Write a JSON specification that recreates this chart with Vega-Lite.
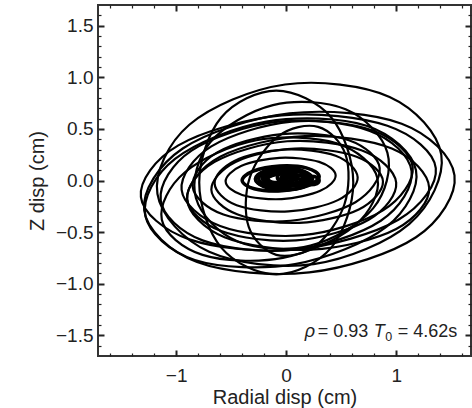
{
  "$schema": "https://vega.github.io/schema/vega-lite/v6.json",
  "width": 373,
  "height": 351,
  "autosize": {"type": "none"},
  "padding": {"left": 98, "top": 5, "right": 1, "bottom": 52},
  "config": {
    "view": {"stroke": "#333", "strokeWidth": 2},
    "axis": {"grid": false, "domain": false, "labelFont": "Liberation Sans", "titleFont": "Liberation Sans", "labelFontSize": 19, "titleFontSize": 20, "titleFontWeight": "normal", "labelColor": "#222", "titleColor": "#222"}
  },
  "data": {"values": [
    {"loop":1,"i":0,"x":1.53,"y":0.05},{"loop":1,"i":1,"x":1.05,"y":0.55},{"loop":1,"i":2,"x":0.03,"y":0.65},{"loop":1,"i":3,"x":-0.94,"y":0.31},{"loop":1,"i":4,"x":-1.29,"y":-0.29},{"loop":1,"i":5,"x":-0.81,"y":-0.79},{"loop":1,"i":6,"x":0.21,"y":-0.89},{"loop":1,"i":7,"x":1.18,"y":-0.55},
    {"loop":2,"i":0,"x":1.41,"y":0.25},{"loop":2,"i":1,"x":0.94,"y":0.81},{"loop":2,"i":2,"x":-0.01,"y":0.93},{"loop":2,"i":3,"x":-0.88,"y":0.54},{"loop":2,"i":4,"x":-1.17,"y":-0.13},{"loop":2,"i":5,"x":-0.70,"y":-0.69},{"loop":2,"i":6,"x":0.25,"y":-0.81},{"loop":2,"i":7,"x":1.12,"y":-0.42},
    {"loop":3,"i":0,"x":1.18,"y":0.10},{"loop":3,"i":1,"x":0.73,"y":0.53},{"loop":3,"i":2,"x":-0.18,"y":0.57},{"loop":3,"i":3,"x":-1.01,"y":0.21},{"loop":3,"i":4,"x":-1.28,"y":-0.34},{"loop":3,"i":5,"x":-0.83,"y":-0.77},{"loop":3,"i":6,"x":0.08,"y":-0.81},{"loop":3,"i":7,"x":0.91,"y":-0.45},
    {"loop":4,"i":0,"x":1.14,"y":0.09},{"loop":4,"i":1,"x":0.76,"y":0.48},{"loop":4,"i":2,"x":-0.07,"y":0.57},{"loop":4,"i":3,"x":-0.86,"y":0.29},{"loop":4,"i":4,"x":-1.14,"y":-0.19},{"loop":4,"i":5,"x":-0.76,"y":-0.58},{"loop":4,"i":6,"x":0.07,"y":-0.67},{"loop":4,"i":7,"x":0.86,"y":-0.39},
    {"loop":5,"i":0,"x":1.15,"y":0.13},{"loop":5,"i":1,"x":0.80,"y":0.48},{"loop":5,"i":2,"x":0.05,"y":0.57},{"loop":5,"i":3,"x":-0.68,"y":0.33},{"loop":5,"i":4,"x":-0.95,"y":-0.09},{"loop":5,"i":5,"x":-0.60,"y":-0.44},{"loop":5,"i":6,"x":0.15,"y":-0.53},{"loop":5,"i":7,"x":0.88,"y":-0.29},
    {"loop":6,"i":0,"x":1.00,"y":-0.02},{"loop":6,"i":1,"x":0.69,"y":0.29},{"loop":6,"i":2,"x":0.01,"y":0.38},{"loop":6,"i":3,"x":-0.65,"y":0.18},{"loop":6,"i":4,"x":-0.90,"y":-0.18},{"loop":6,"i":5,"x":-0.59,"y":-0.49},{"loop":6,"i":6,"x":0.09,"y":-0.58},{"loop":6,"i":7,"x":0.75,"y":-0.38},
    {"loop":7,"i":0,"x":0.85,"y":0.12},{"loop":7,"i":1,"x":0.57,"y":0.39},{"loop":7,"i":2,"x":-0.04,"y":0.45},{"loop":7,"i":3,"x":-0.63,"y":0.27},{"loop":7,"i":4,"x":-0.85,"y":-0.06},{"loop":7,"i":5,"x":-0.57,"y":-0.33},{"loop":7,"i":6,"x":0.04,"y":-0.39},{"loop":7,"i":7,"x":0.63,"y":-0.21},
    {"loop":8,"i":0,"x":0.88,"y":-0.01},{"loop":8,"i":1,"x":0.64,"y":0.23},{"loop":8,"i":2,"x":0.08,"y":0.31},{"loop":8,"i":3,"x":-0.46,"y":0.18},{"loop":8,"i":4,"x":-0.68,"y":-0.09},{"loop":8,"i":5,"x":-0.44,"y":-0.33},{"loop":8,"i":6,"x":0.12,"y":-0.41},{"loop":8,"i":7,"x":0.66,"y":-0.28},
    {"loop":9,"i":0,"x":0.61,"y":-0.02},{"loop":9,"i":1,"x":0.41,"y":0.61},{"loop":9,"i":2,"x":-0.09,"y":0.87},{"loop":9,"i":3,"x":-0.59,"y":0.61},{"loop":9,"i":4,"x":-0.79,"y":-0.02},{"loop":9,"i":5,"x":-0.59,"y":-0.65},{"loop":9,"i":6,"x":-0.09,"y":-0.91},{"loop":9,"i":7,"x":0.41,"y":-0.65},
    {"loop":10,"i":0,"x":0.53,"y":-0.23},{"loop":10,"i":1,"x":0.54,"y":0.25},{"loop":10,"i":2,"x":0.29,"y":0.52},{"loop":10,"i":3,"x":-0.07,"y":0.43},{"loop":10,"i":4,"x":-0.33,"y":0.03},{"loop":10,"i":5,"x":-0.34,"y":-0.45},{"loop":10,"i":6,"x":-0.09,"y":-0.72},{"loop":10,"i":7,"x":0.27,"y":-0.63},
    {"loop":11,"i":0,"x":0.83,"y":0.02},{"loop":11,"i":1,"x":0.46,"y":0.36},{"loop":11,"i":2,"x":-0.27,"y":0.39},{"loop":11,"i":3,"x":-0.92,"y":0.08},{"loop":11,"i":4,"x":-1.13,"y":-0.38},{"loop":11,"i":5,"x":-0.76,"y":-0.72},{"loop":11,"i":6,"x":-0.03,"y":-0.75},{"loop":11,"i":7,"x":0.62,"y":-0.44},
    {"loop":12,"i":0,"x":1.30,"y":-0.07},{"loop":12,"i":1,"x":0.96,"y":0.31},{"loop":12,"i":2,"x":0.17,"y":0.43},{"loop":12,"i":3,"x":-0.60,"y":0.23},{"loop":12,"i":4,"x":-0.90,"y":-0.18},{"loop":12,"i":5,"x":-0.56,"y":-0.55},{"loop":12,"i":6,"x":0.23,"y":-0.67},{"loop":12,"i":7,"x":1.00,"y":-0.47},
    {"loop":13,"i":0,"x":0.65,"y":0.03},{"loop":13,"i":1,"x":0.45,"y":0.24},{"loop":13,"i":2,"x":-0.02,"y":0.30},{"loop":13,"i":3,"x":-0.47,"y":0.19},{"loop":13,"i":4,"x":-0.65,"y":-0.03},{"loop":13,"i":5,"x":-0.45,"y":-0.24},{"loop":13,"i":6,"x":0.02,"y":-0.30},{"loop":13,"i":7,"x":0.47,"y":-0.19},
    {"loop":14,"i":0,"x":0.45,"y":0.05},{"loop":14,"i":1,"x":0.30,"y":0.18},{"loop":14,"i":2,"x":-0.06,"y":0.22},{"loop":14,"i":3,"x":-0.41,"y":0.14},{"loop":14,"i":4,"x":-0.55,"y":-0.01},{"loop":14,"i":5,"x":-0.40,"y":-0.14},{"loop":14,"i":6,"x":-0.04,"y":-0.18},{"loop":14,"i":7,"x":0.31,"y":-0.10},
    {"loop":15,"i":0,"x":1.36,"y":0.12},{"loop":15,"i":1,"x":0.92,"y":0.53},{"loop":15,"i":2,"x":-0.04,"y":0.63},{"loop":15,"i":3,"x":-0.98,"y":0.34},{"loop":15,"i":4,"x":-1.32,"y":-0.16},{"loop":15,"i":5,"x":-0.88,"y":-0.57},{"loop":15,"i":6,"x":0.08,"y":-0.67},{"loop":15,"i":7,"x":1.02,"y":-0.38},
    {"loop":16,"i":0,"x":0.92,"y":0.27},{"loop":16,"i":1,"x":0.54,"y":0.69},{"loop":16,"i":2,"x":-0.12,"y":0.73},{"loop":16,"i":3,"x":-0.69,"y":0.37},{"loop":16,"i":4,"x":-0.82,"y":-0.17},{"loop":16,"i":5,"x":-0.44,"y":-0.59},{"loop":16,"i":6,"x":0.22,"y":-0.63},{"loop":16,"i":7,"x":0.79,"y":-0.27},
    {"loop":17,"i":0,"x":0.19,"y":0.02},{"loop":17,"i":1,"x":0.13,"y":0.08},{"loop":17,"i":2,"x":-0.03,"y":0.10},{"loop":17,"i":3,"x":-0.19,"y":0.08},{"loop":17,"i":4,"x":-0.25,"y":0.02},{"loop":17,"i":5,"x":-0.19,"y":-0.04},{"loop":17,"i":6,"x":-0.03,"y":-0.06},{"loop":17,"i":7,"x":0.13,"y":-0.04},
    {"loop":18,"i":0,"x":0.17,"y":0.01},{"loop":18,"i":1,"x":0.12,"y":0.05},{"loop":18,"i":2,"x":0.0,"y":0.07},{"loop":18,"i":3,"x":-0.12,"y":0.05},{"loop":18,"i":4,"x":-0.17,"y":0.01},{"loop":18,"i":5,"x":-0.12,"y":-0.03},{"loop":18,"i":6,"x":0.0,"y":-0.05},{"loop":18,"i":7,"x":0.12,"y":-0.03},
    {"loop":19,"i":0,"x":0.07,"y":0.03},{"loop":19,"i":1,"x":0.04,"y":0.07},{"loop":19,"i":2,"x":-0.05,"y":0.08},{"loop":19,"i":3,"x":-0.14,"y":0.07},{"loop":19,"i":4,"x":-0.17,"y":0.03},{"loop":19,"i":5,"x":-0.14,"y":-0.01},{"loop":19,"i":6,"x":-0.05,"y":-0.02},{"loop":19,"i":7,"x":0.04,"y":-0.01},
    {"loop":20,"i":0,"x":0.13,"y":0.0},{"loop":20,"i":1,"x":0.11,"y":0.02},{"loop":20,"i":2,"x":0.05,"y":0.03},{"loop":20,"i":3,"x":-0.01,"y":0.02},{"loop":20,"i":4,"x":-0.03,"y":0.0},{"loop":20,"i":5,"x":-0.01,"y":-0.02},{"loop":20,"i":6,"x":0.05,"y":-0.03},{"loop":20,"i":7,"x":0.11,"y":-0.02},
    {"loop":21,"i":0,"x":0.30,"y":0.0},{"loop":21,"i":1,"x":0.28,"y":0.03},{"loop":21,"i":2,"x":0.22,"y":0.04},{"loop":21,"i":3,"x":0.16,"y":0.03},{"loop":21,"i":4,"x":0.14,"y":0.0},{"loop":21,"i":5,"x":0.16,"y":-0.03},{"loop":21,"i":6,"x":0.22,"y":-0.04},{"loop":21,"i":7,"x":0.28,"y":-0.03},
    {"loop":22,"i":0,"x":0.30,"y":0.04},{"loop":22,"i":1,"x":0.19,"y":0.12},{"loop":22,"i":2,"x":-0.06,"y":0.14},{"loop":22,"i":3,"x":-0.30,"y":0.09},{"loop":22,"i":4,"x":-0.40,"y":0.0},{"loop":22,"i":5,"x":-0.29,"y":-0.08},{"loop":22,"i":6,"x":-0.04,"y":-0.10},{"loop":22,"i":7,"x":0.20,"y":-0.05},
    {"loop":23,"i":0,"x":0.20,"y":0.0},{"loop":23,"i":1,"x":0.17,"y":0.035},{"loop":23,"i":2,"x":0.10,"y":0.05},{"loop":23,"i":3,"x":0.03,"y":0.035},{"loop":23,"i":4,"x":0.0,"y":0.0},{"loop":23,"i":5,"x":0.03,"y":-0.035},{"loop":23,"i":6,"x":0.10,"y":-0.05},{"loop":23,"i":7,"x":0.17,"y":-0.035},
    {"loop":24,"i":0,"x":0.0,"y":0.02},{"loop":24,"i":1,"x":-0.03,"y":0.055},{"loop":24,"i":2,"x":-0.10,"y":0.07},{"loop":24,"i":3,"x":-0.17,"y":0.055},{"loop":24,"i":4,"x":-0.20,"y":0.02},{"loop":24,"i":5,"x":-0.17,"y":-0.015},{"loop":24,"i":6,"x":-0.10,"y":-0.03},{"loop":24,"i":7,"x":-0.03,"y":-0.015},
    {"loop":25,"i":0,"x":0.10,"y":0.02},{"loop":25,"i":1,"x":0.056,"y":0.084},{"loop":25,"i":2,"x":-0.05,"y":0.11},{"loop":25,"i":3,"x":-0.156,"y":0.084},{"loop":25,"i":4,"x":-0.20,"y":0.02},{"loop":25,"i":5,"x":-0.156,"y":-0.044},{"loop":25,"i":6,"x":-0.05,"y":-0.07},{"loop":25,"i":7,"x":0.056,"y":-0.044},
    {"loop":26,"i":0,"x":0.08,"y":0.03},{"loop":26,"i":1,"x":0.057,"y":0.065},{"loop":26,"i":2,"x":0.0,"y":0.08},{"loop":26,"i":3,"x":-0.057,"y":0.065},{"loop":26,"i":4,"x":-0.08,"y":0.03},{"loop":26,"i":5,"x":-0.057,"y":-0.005},{"loop":26,"i":6,"x":0.0,"y":-0.02},{"loop":26,"i":7,"x":0.057,"y":-0.005},
    {"loop":27,"i":0,"x":-0.02,"y":0.03},{"loop":27,"i":1,"x":-0.049,"y":0.072},{"loop":27,"i":2,"x":-0.12,"y":0.09},{"loop":27,"i":3,"x":-0.191,"y":0.072},{"loop":27,"i":4,"x":-0.22,"y":0.03},{"loop":27,"i":5,"x":-0.191,"y":-0.012},{"loop":27,"i":6,"x":-0.12,"y":-0.03},{"loop":27,"i":7,"x":-0.049,"y":-0.012},
    {"loop":28,"i":0,"x":0.22,"y":0.03},{"loop":28,"i":1,"x":0.185,"y":0.072},{"loop":28,"i":2,"x":0.10,"y":0.09},{"loop":28,"i":3,"x":0.015,"y":0.072},{"loop":28,"i":4,"x":-0.02,"y":0.03},{"loop":28,"i":5,"x":0.015,"y":-0.012},{"loop":28,"i":6,"x":0.10,"y":-0.03},{"loop":28,"i":7,"x":0.185,"y":-0.012},
    {"loop":29,"i":0,"x":0.24,"y":0.015},{"loop":29,"i":1,"x":0.164,"y":0.089},{"loop":29,"i":2,"x":-0.02,"y":0.12},{"loop":29,"i":3,"x":-0.204,"y":0.089},{"loop":29,"i":4,"x":-0.28,"y":0.015},{"loop":29,"i":5,"x":-0.204,"y":-0.059},{"loop":29,"i":6,"x":-0.02,"y":-0.09},{"loop":29,"i":7,"x":0.164,"y":-0.059},
    {"loop":30,"i":0,"x":0.05,"y":0.02},{"loop":30,"i":1,"x":0.035,"y":0.038},{"loop":30,"i":2,"x":0.0,"y":0.045},{"loop":30,"i":3,"x":-0.035,"y":0.038},{"loop":30,"i":4,"x":-0.05,"y":0.02},{"loop":30,"i":5,"x":-0.035,"y":0.002},{"loop":30,"i":6,"x":0.0,"y":-0.005},{"loop":30,"i":7,"x":0.035,"y":0.002}
  ]},
  "resolve": {"axis": {"x": "independent", "y": "independent"}},
  "layer": [
    {
      "mark": {"type": "line", "interpolate": "cardinal-closed", "stroke": "black", "strokeWidth": 2.2},
      "encoding": {
        "x": {"field": "x", "type": "quantitative", "scale": {"domain": [-1.71, 1.68], "nice": false, "zero": false},
              "axis": {"orient": "bottom", "values": [-1, 0, 1], "format": "d", "ticks": true, "tickColor": "#222", "tickSize": -6, "tickWidth": 2, "labelPadding": 16, "title": "Radial disp (cm)", "titlePadding": 2}},
        "y": {"field": "y", "type": "quantitative", "scale": {"domain": [-1.7, 1.7], "nice": false, "zero": false},
              "axis": {"orient": "left", "values": [-1.5, -1, -0.5, 0, 0.5, 1, 1.5], "format": ".1f", "ticks": true, "tickColor": "#222", "tickSize": -6, "tickWidth": 2, "labelPadding": 11, "title": "Z disp (cm)", "titlePadding": 8}},
        "detail": {"field": "loop", "type": "nominal"},
        "order": {"field": "i", "type": "quantitative"}
      }
    },
    {
      "transform": [{"filter": "datum.loop >= 17"}],
      "mark": {"type": "line", "interpolate": "cardinal-closed", "stroke": "black", "strokeWidth": 3.5},
      "encoding": {
        "x": {"field": "x", "type": "quantitative", "axis": null},
        "y": {"field": "y", "type": "quantitative", "axis": null},
        "detail": {"field": "loop", "type": "nominal"},
        "order": {"field": "i", "type": "quantitative"}
      }
    },
    {
      "mark": {"type": "point", "opacity": 0},
      "encoding": {
        "x": {"field": "x", "type": "quantitative", "axis": {"orient": "bottom", "values": [-1.6,-1.4,-1.2,-0.8,-0.6,-0.4,-0.2,0.2,0.4,0.6,0.8,1.2,1.4,1.6], "ticks": true, "tickColor": "#222", "tickSize": -3, "tickWidth": 1.2, "labels": false, "title": null}},
        "y": {"field": "y", "type": "quantitative", "axis": {"orient": "left", "values": [-1.6,-1.4,-1.3,-1.2,-1.1,-0.9,-0.8,-0.7,-0.6,-0.4,-0.3,-0.2,-0.1,0.1,0.2,0.3,0.4,0.6,0.7,0.8,0.9,1.1,1.2,1.3,1.4,1.6], "ticks": true, "tickColor": "#222", "tickSize": -3, "tickWidth": 1.2, "labels": false, "title": null}}
      }
    },
    {
      "mark": {"type": "point", "opacity": 0},
      "encoding": {
        "x": {"field": "x", "type": "quantitative", "axis": {"orient": "top", "values": [-1, 0, 1], "ticks": true, "tickColor": "#222", "tickSize": -6, "tickWidth": 2, "labels": false, "title": null}},
        "y": {"field": "y", "type": "quantitative", "axis": {"orient": "right", "values": [-1.5, -1, -0.5, 0, 0.5, 1, 1.5], "ticks": true, "tickColor": "#222", "tickSize": -6, "tickWidth": 2, "labels": false, "title": null}}
      }
    },
    {
      "mark": {"type": "point", "opacity": 0},
      "encoding": {
        "x": {"field": "x", "type": "quantitative", "axis": {"orient": "top", "values": [-1.6,-1.4,-1.2,-0.8,-0.6,-0.4,-0.2,0.2,0.4,0.6,0.8,1.2,1.4,1.6], "ticks": true, "tickColor": "#222", "tickSize": -3, "tickWidth": 1.2, "labels": false, "title": null}},
        "y": {"field": "y", "type": "quantitative", "axis": {"orient": "right", "values": [-1.6,-1.4,-1.3,-1.2,-1.1,-0.9,-0.8,-0.7,-0.6,-0.4,-0.3,-0.2,-0.1,0.1,0.2,0.3,0.4,0.6,0.7,0.8,0.9,1.1,1.2,1.3,1.4,1.6], "ticks": true, "tickColor": "#222", "tickSize": -3, "tickWidth": 1.2, "labels": false, "title": null}}
      }
    },
    {
      "data": {"values": [{}]},
      "mark": {"type": "text", "text": "ρ", "fontStyle": "italic", "font": "Liberation Sans", "fontSize": 18, "align": "left", "baseline": "alphabetic", "color": "#222", "dx": 0},
      "encoding": {"x": {"datum": 0.169, "type": "quantitative", "axis": null}, "y": {"datum": -1.512, "type": "quantitative", "axis": null}}
    },
    {
      "data": {"values": [{}]},
      "mark": {"type": "text", "text": "= 0.93", "font": "Liberation Sans", "fontSize": 18, "align": "left", "baseline": "alphabetic", "color": "#222", "dx": 13},
      "encoding": {"x": {"datum": 0.169, "type": "quantitative", "axis": null}, "y": {"datum": -1.512, "type": "quantitative", "axis": null}}
    },
    {
      "data": {"values": [{}]},
      "mark": {"type": "text", "text": "T", "fontStyle": "italic", "font": "Liberation Sans", "fontSize": 18, "align": "left", "baseline": "alphabetic", "color": "#222", "dx": 69},
      "encoding": {"x": {"datum": 0.169, "type": "quantitative", "axis": null}, "y": {"datum": -1.512, "type": "quantitative", "axis": null}}
    },
    {
      "data": {"values": [{}]},
      "mark": {"type": "text", "text": "0", "font": "Liberation Sans", "fontSize": 12.5, "align": "left", "baseline": "alphabetic", "color": "#222", "dx": 80.5, "dy": 4},
      "encoding": {"x": {"datum": 0.169, "type": "quantitative", "axis": null}, "y": {"datum": -1.512, "type": "quantitative", "axis": null}}
    },
    {
      "data": {"values": [{}]},
      "mark": {"type": "text", "text": "= 4.62s", "font": "Liberation Sans", "fontSize": 18, "align": "left", "baseline": "alphabetic", "color": "#222", "dx": 93},
      "encoding": {"x": {"datum": 0.169, "type": "quantitative", "axis": null}, "y": {"datum": -1.512, "type": "quantitative", "axis": null}}
    }
  ]
}
